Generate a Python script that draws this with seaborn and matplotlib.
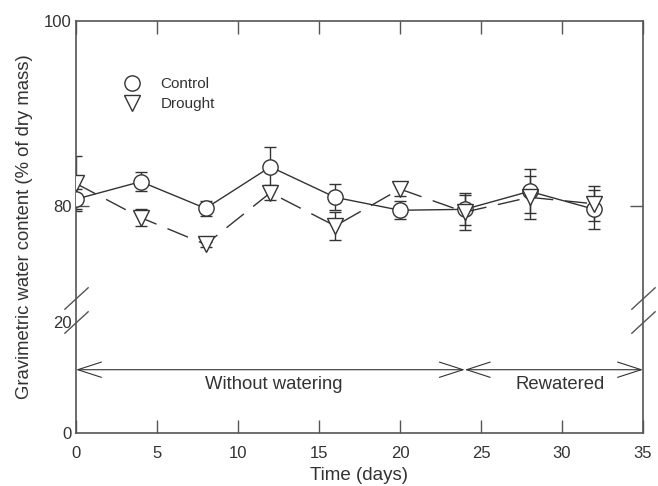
import numpy as np
import pandas as pd
import matplotlib
matplotlib.use("Agg")
import matplotlib.pyplot as plt
import matplotlib.transforms as mtransforms
from matplotlib.lines import Line2D
import seaborn as sns

# ---- data ----
days = [0, 4, 8, 12, 16, 20, 24, 28, 32]
control = [80.7, 82.6, 79.7, 84.2, 80.9, 79.5, 79.6, 81.55, 79.6]
control_err = [1.1, 1.0, 0.8, 2.1, 1.4, 0.95, 1.75, 2.4, 2.1]
drought = [82.4, 78.7, 75.8, 81.4, 77.8, 81.8, 79.3, 80.9, 80.2]
drought_err = [3.0, 0.9, 0.3, 0.8, 1.55, 0.8, 1.9, 2.3, 1.9]
series_names = ["Control", "Drought"]
x_ticks = [0, 5, 10, 15, 20, 25, 30, 35]
y_ticks = [0, 20, 80, 100]
phase_labels = ["Without watering", "Rewatered"]
phase_bounds = [0, 24, 35]
arrow_y = 11.4
phase_text_x = [12.2, 29.9]
phase_text_y = 8.8

df = pd.DataFrame({
    "day": days * 2,
    "gwc": control + drought,
    "treatment": [series_names[0]] * len(days) + [series_names[1]] * len(days),
})

sns.set_theme(style="white")
plt.rcParams["font.family"] = ["Liberation Sans", "DejaVu Sans"]

INK = "#333333"
SPINE = "#555555"

# broken axis: 0-20 lower part, gap, 70-100 upper part
def fwd(y):
    y = np.asarray(y, dtype=float)
    return np.where(y <= 20, y * 5.55,
                    np.where(y >= 70, 135 + (y - 70) * 9.23,
                             111 + (y - 20) * 24 / 50))

def inv(v):
    v = np.asarray(v, dtype=float)
    return np.where(v <= 111, v / 5.55,
                    np.where(v >= 135, 70 + (v - 135) / 9.23,
                             20 + (v - 111) * 50 / 24))

fig = plt.figure(figsize=(6.58, 4.86), dpi=100)
ax = fig.add_axes([76 / 658, 1 - 433 / 486, 567 / 658, 412 / 486])
ax.set_yscale("function", functions=(fwd, inv))

# error bars (under markers)
ax.errorbar(days, control, yerr=control_err, fmt="none", ecolor=INK,
            elinewidth=1.0, capsize=4.5, capthick=1.0, zorder=2)
ax.errorbar(days, drought, yerr=drought_err, fmt="none", ecolor=INK,
            elinewidth=1.0, capsize=4.5, capthick=1.0, zorder=2)

sns.lineplot(data=df, x="day", y="gwc", style="treatment",
             markers={"Control": "o", "Drought": "v"},
             dashes={"Control": "", "Drought": (16, 8.5)},
             color=INK, markersize=11, markerfacecolor="white",
             markeredgecolor=INK, markeredgewidth=1.0, linewidth=1.0,
             sort=False, errorbar=None, legend=False, ax=ax, zorder=3)

ax.set_xlim(0, 35)
ax.set_ylim(0, 100)
ax.set_xticks(x_ticks)
ax.set_xticklabels([str(t) for t in x_ticks])
ax.set_yticks(y_ticks)
ax.set_yticklabels([str(t) for t in y_ticks])
ax.tick_params(axis="x", direction="in", length=9.5, width=1.0, color=SPINE,
               top=True, bottom=True, labelsize=12, labelcolor=INK, pad=9)
ax.tick_params(axis="y", direction="in", length=9.5, width=1.0, color=SPINE,
               left=True, right=True, labelsize=12, labelcolor=INK, pad=3)
for i, t in enumerate(ax.yaxis.get_major_ticks()):
    if y_ticks[i] != 80:
        t.tick1line.set_visible(False)
        t.tick2line.set_visible(False)

for s in ax.spines.values():
    s.set_color(SPINE)
    s.set_linewidth(1.2)

ax.set_xlabel("Time (days)", fontsize=13.5, color=INK, labelpad=5)
ax.set_ylabel("Gravimetric water content (% of dry mass)", fontsize=13.3,
              color=INK, labelpad=8)

# break marks on both spines at 20 and 70
blend = mtransforms.blended_transform_factory(ax.transAxes, ax.transData)
slash = [(-1, -0.92), (1, 0.92)]
for yb in (20, 70):
    ax.plot([0, 1], [yb, yb], linestyle="", marker=slash, markersize=17.5,
            markeredgewidth=1.0, color=SPINE, transform=blend, clip_on=False,
            zorder=5)

# phase arrows
for a, b in zip(phase_bounds[:-1], phase_bounds[1:]):
    ax.annotate("", xy=(b, arrow_y), xytext=(a, arrow_y),
                arrowprops=dict(arrowstyle="<->,head_length=1.7,head_width=0.55",
                                mutation_scale=10, lw=0.8, color=INK,
                                shrinkA=0, shrinkB=0))
for lbl, tx in zip(phase_labels, phase_text_x):
    ax.text(tx, phase_text_y, lbl, ha="center", va="center", fontsize=13.3,
            color=INK)

# legend (markers only)
handles = [
    Line2D([], [], linestyle="", marker="o", markersize=11,
           markerfacecolor="white", markeredgecolor=INK, markeredgewidth=1.0),
    Line2D([], [], linestyle="", marker="v", markersize=11,
           markerfacecolor="white", markeredgecolor=INK, markeredgewidth=1.0),
]
leg = ax.legend(handles, series_names, frameon=False, loc="upper left",
                bbox_to_anchor=(0.055, 0.897), fontsize=11,
                handletextpad=1.1, labelspacing=0.4, handlelength=1.5)
for t in leg.get_texts():
    t.set_color(INK)

fig.savefig("out.png", dpi=100, facecolor="white")
